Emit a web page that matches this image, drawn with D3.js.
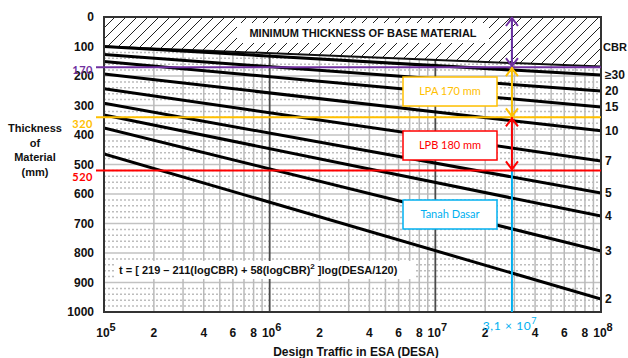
<!DOCTYPE html>
<html>
<head>
<meta charset="utf-8">
<script src="https://cdn.jsdelivr.net/npm/d3@7"></script>
<style>
  html, body { margin: 0; padding: 0; background: #fff; }
  svg { display: block; }
</style>
</head>
<body>
<div id="chart"></div>
<script>
// ── Données ────────────────────────────────────────────────────────
const cbrLabels   = ['≥30', '20', '15', '10', '7', '5', '4', '3', '2'];
const thickAt1e5  = [100, 127, 151, 193, 243, 292, 332, 376, 464];   // mm à DESA = 1e5
const thickAt1e8  = [197, 251, 305, 386, 488, 597, 675, 793, 956];   // mm à DESA = 1e8
const desaEnds    = [1e5, 1e8];
const minThickEnds = [100, 168];                                      // limite zone hachurée
const yTicks      = [0, 100, 200, 300, 400, 500, 600, 700, 800, 900, 1000];
const xDecades    = [1e5, 1e6, 1e7, 1e8];
const xDecadeExp  = ['5', '6', '7', '8'];
const xMinorMult  = [2, 4, 6, 8];

// Annotations (épaisseurs de couches)
const annLabels   = ['170', '320', '520'];
const annValues   = [170, 340, 520];
const annColors   = ['#7030A0', '#FFC000', '#FF0000'];
const boxTexts    = ['LPA 170 mm', 'LPB 180 mm', 'Tanah Dasar'];
const boxColors   = ['#FFC000', '#FF0000', '#00B0F0'];
const desaMarked  = 2.9e7;
const desaMarkedLabel = '3,1 × 10';
const desaMarkedExp   = '7';

// ── Mise en page ──────────────────────────────────────────────────
const W = 628, H = 358;
const M = { left: 104, right: 601, top: 17, bottom: 312 };
const FONT = "'Liberation Sans', Arial, sans-serif";
const FONT2 = "Lato, 'Open Sans', sans-serif";
const CYAN = '#00B0F0';

const svg = d3.select('#chart').append('svg')
  .attr('width', W).attr('height', H)
  .attr('viewBox', `0 0 ${W} ${H}`);

const x = d3.scaleLog().domain([1e5, 1e8]).range([M.left, M.right]);
const y = d3.scaleLinear().domain([0, 1000]).range([M.top, M.bottom]);

const defs = svg.append('defs');
defs.append('clipPath').attr('id', 'plot-clip')
  .append('rect')
  .attr('x', M.left).attr('y', M.top)
  .attr('width', M.right - M.left).attr('height', M.bottom - M.top);

const hatch = defs.append('pattern')
  .attr('id', 'hatch').attr('patternUnits', 'userSpaceOnUse')
  .attr('width', 11).attr('height', 11);
hatch.append('path')
  .attr('d', 'M0,11 L11,0 M-2,2 L2,-2 M9,13 L13,9')
  .attr('stroke', '#222').attr('stroke-width', 1);

// ── Grille ────────────────────────────────────────────────────────
const grid = svg.append('g').attr('clip-path', 'url(#plot-clip)');

// lignes pointillées tous les 20 mm
d3.range(20, 1000, 20).filter(v => v % 100 !== 0).forEach(v => {
  grid.append('line')
    .attr('x1', M.left).attr('x2', M.right)
    .attr('y1', y(v)).attr('y2', y(v))
    .attr('stroke', '#bdbdbd').attr('stroke-width', 1.5)
    .attr('stroke-dasharray', '2,2');
});
// lignes pleines tous les 100 mm
yTicks.forEach(v => {
  grid.append('line')
    .attr('x1', M.left).attr('x2', M.right)
    .attr('y1', y(v)).attr('y2', y(v))
    .attr('stroke', '#c2c2c2').attr('stroke-width', 1.5);
});
// verticales mineures 2..9
xDecades.slice(0, 3).forEach(d => {
  d3.range(2, 10).forEach(m => {
    grid.append('line')
      .attr('x1', x(d * m)).attr('x2', x(d * m))
      .attr('y1', M.top).attr('y2', M.bottom)
      .attr('stroke', '#bababa').attr('stroke-width', 1.5);
  });
});
// verticales décades
xDecades.slice(1, 3).forEach(d => {
  grid.append('line')
    .attr('x1', x(d)).attr('x2', x(d))
    .attr('y1', M.top).attr('y2', M.bottom)
    .attr('stroke', '#4a4a4a').attr('stroke-width', 1.8);
});

// ── Zone hachurée (épaisseur minimale) ────────────────────────────
const area = d3.area()
  .x(d => x(d[0]))
  .y0(y(0))
  .y1(d => y(d[1]));
svg.append('path')
  .datum(desaEnds.map((d, i) => [d, minThickEnds[i]]))
  .attr('d', area)
  .attr('fill', '#fff');
svg.append('path')
  .datum(desaEnds.map((d, i) => [d, minThickEnds[i]]))
  .attr('d', area)
  .attr('fill', 'url(#hatch)');

// titre dans la zone hachurée
const titleG = svg.append('g');
titleG.append('rect')
  .attr('x', 237).attr('y', 23).attr('width', 252).attr('height', 20)
  .attr('fill', '#fff');
titleG.append('text')
  .attr('x', 363).attr('y', 37)
  .attr('text-anchor', 'middle')
  .attr('font-family', FONT).attr('font-weight', 700).attr('font-size', 11)
  .attr('fill', '#111')
  .text('MINIMUM THICKNESS OF BASE MATERIAL');

// ── Courbes CBR ───────────────────────────────────────────────────
const line = d3.line().x(d => x(d[0])).y(d => y(d[1]));
const curves = svg.append('g').attr('clip-path', 'url(#plot-clip)');
curves.append('path')
  .datum(desaEnds.map((d, i) => [d, minThickEnds[i]]))
  .attr('d', line)
  .attr('fill', 'none').attr('stroke', '#111').attr('stroke-width', 2);
cbrLabels.forEach((lab, i) => {
  curves.append('path')
    .datum(desaEnds.map((d, j) => [d, j === 0 ? thickAt1e5[i] : thickAt1e8[i]]))
    .attr('d', line)
    .attr('fill', 'none').attr('stroke', '#000').attr('stroke-width', 3);
});

// formule
const fG = svg.append('g');
fG.append('rect')
  .attr('x', 114).attr('y', 261).attr('width', 302).attr('height', 18)
  .attr('fill', '#fff');
const ft = fG.append('text')
  .attr('x', 119).attr('y', 274)
  .attr('font-family', FONT).attr('font-weight', 700).attr('font-size', 11)
  .attr('fill', '#111');
ft.append('tspan').text('t = [ 219 – 211(logCBR) + 58(logCBR)');
ft.append('tspan').attr('dy', -5).attr('font-size', 8).text('2');
ft.append('tspan').attr('dy', 5).text(' ]log(DESA/120)');

// cadre
svg.append('rect')
  .attr('x', M.left).attr('y', M.top)
  .attr('width', M.right - M.left).attr('height', M.bottom - M.top)
  .attr('fill', 'none').attr('stroke', '#333').attr('stroke-width', 2);

// ── Axes ──────────────────────────────────────────────────────────
const yAxis = svg.append('g')
  .attr('transform', `translate(${M.left},0)`)
  .call(d3.axisLeft(y).tickValues(yTicks).tickFormat(d3.format('d'))
    .tickSize(0).tickPadding(10));
yAxis.select('.domain').remove();
yAxis.selectAll('text')
  .attr('font-family', FONT).attr('font-weight', 700).attr('font-size', 12)
  .attr('fill', '#111');

const xLab = svg.append('g')
  .attr('font-family', FONT).attr('font-weight', 700).attr('font-size', 12)
  .attr('fill', '#111');
xDecades.forEach((d, i) => {
  const t = xLab.append('text')
    .attr('x', x(d) + 2).attr('y', 337)
    .attr('text-anchor', 'middle');
  t.append('tspan').text('10');
  t.append('tspan').attr('dy', -6).attr('font-size', 11).text(xDecadeExp[i]);
});
xDecades.slice(0, 3).forEach(d => {
  xMinorMult.forEach(m => {
    xLab.append('text')
      .attr('x', x(d * m)).attr('y', 337)
      .attr('text-anchor', 'middle')
      .text(m);
  });
});

svg.append('text')
  .attr('x', 356).attr('y', 356)
  .attr('text-anchor', 'middle')
  .attr('font-family', FONT).attr('font-weight', 700).attr('font-size', 12)
  .attr('fill', '#111')
  .text('Design Traffic in ESA (DESA)');

['Thickness', 'of', 'Material', '(mm)'].forEach((s, i) => {
  svg.append('text')
    .attr('x', 35).attr('y', 132 + i * 14.5)
    .attr('text-anchor', 'middle')
    .attr('font-family', FONT).attr('font-weight', 700).attr('font-size', 11)
    .attr('fill', '#111')
    .text(s);
});

// étiquettes CBR à droite
const rLab = svg.append('g')
  .attr('font-family', FONT).attr('font-weight', 700).attr('font-size', 12)
  .attr('fill', '#111');
rLab.append('text').attr('x', 603).attr('y', 51)
  .attr('font-size', 11).text('CBR');
cbrLabels.forEach((lab, i) => {
  rLab.append('text')
    .attr('x', 605).attr('y', y(thickAt1e8[i]))
    .attr('dy', '0.35em')
    .text(lab);
});

// ── Annotations ───────────────────────────────────────────────────
const ann = svg.append('g');

// verticale cyan
ann.append('line')
  .attr('x1', x(desaMarked)).attr('x2', x(desaMarked))
  .attr('y1', M.top).attr('y2', M.bottom)
  .attr('stroke', CYAN).attr('stroke-width', 2);

annValues.forEach((v, i) => {
  ann.append('line')
    .attr('x1', 96).attr('x2', M.right)
    .attr('y1', y(v)).attr('y2', y(v))
    .attr('stroke', annColors[i]).attr('stroke-width', 2);
  ann.append('text')
    .attr('x', 93).attr('y', y(v) + (i === 0 ? 3 : 7))
    .attr('dy', '0.35em')
    .attr('text-anchor', 'end')
    .attr('font-family', FONT2).attr('font-weight', 700).attr('font-size', 11)
    .attr('letter-spacing', '0.5px')
    .attr('fill', annColors[i])
    .text(annLabels[i]);
});

// flèches doubles
function dblArrow(sel, xp, y1, y2, color) {
  sel.append('line')
    .attr('x1', xp).attr('x2', xp).attr('y1', y1).attr('y2', y2)
    .attr('stroke', color).attr('stroke-width', 2);
  sel.append('path')
    .attr('d', `M${xp - 6},${y1 + 9} L${xp},${y1 + 1} L${xp + 6},${y1 + 9}`)
    .attr('fill', 'none').attr('stroke', color).attr('stroke-width', 2);
  sel.append('path')
    .attr('d', `M${xp - 6},${y2 - 9} L${xp},${y2 - 1} L${xp + 6},${y2 - 9}`)
    .attr('fill', 'none').attr('stroke', color).attr('stroke-width', 2);
}
const spans = [0].concat(annValues);
annColors.forEach((c, i) => {
  dblArrow(ann, x(desaMarked), y(spans[i]), y(spans[i + 1]), c);
});

// boîtes
const boxY = [77, 131, 200];
boxTexts.forEach((t, i) => {
  ann.append('rect')
    .attr('x', 403).attr('y', boxY[i]).attr('width', 94).attr('height', 29)
    .attr('fill', '#fff').attr('stroke', boxColors[i]).attr('stroke-width', 1.5);
  ann.append('text')
    .attr('x', 450).attr('y', boxY[i] + 14.5)
    .attr('dy', '0.35em')
    .attr('text-anchor', 'middle')
    .attr('font-family', FONT2).attr('font-size', 11)
    .attr('fill', boxColors[i])
    .text(t);
});

// étiquette DESA
const dt = ann.append('text')
  .attr('x', x(desaMarked) - 2).attr('y', 330)
  .attr('text-anchor', 'middle')
  .attr('font-family', FONT2).attr('font-size', 12)
  .attr('letter-spacing', '0.6px')
  .attr('fill', CYAN);
dt.append('tspan').text(desaMarkedLabel);
dt.append('tspan').attr('dy', -6).attr('font-size', 9).text(desaMarkedExp);
</script>
</body>
</html>
